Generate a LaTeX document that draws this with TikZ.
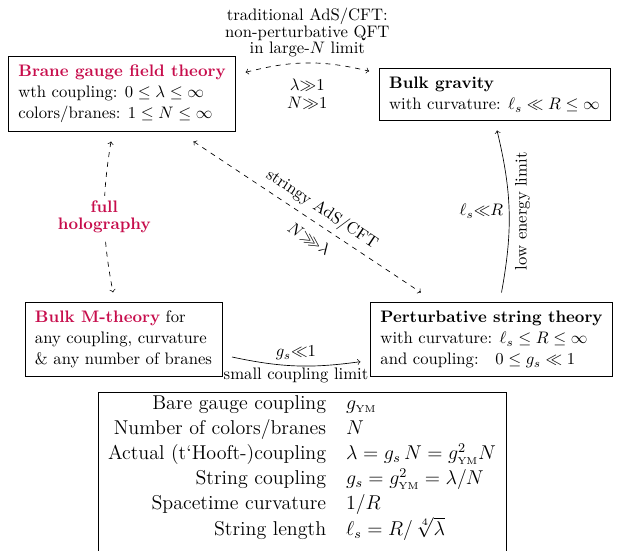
\documentclass[tikz,border=0pt]{standalone}
\usepackage{amsmath}
\usepackage{amssymb}
\usepackage{tikz}
\usetikzlibrary{arrows}
\usetikzlibrary{positioning}
\definecolor{holored}{rgb}{0.78,0.05,0.3}
\tikzset{theory/.style = {draw, align=left, inner xsep=6pt, inner ysep=5pt, outer sep=6pt,
    font=\linespread{1.06}\selectfont}}
\tikzset{lbl/.style = {align=center, font=\linespread{0.82}\selectfont}}

\begin{document}
\begin{tikzpicture}[x=0.6pt, y=0.6pt]
          \useasboundingbox (0, 0) rectangle (621, 550);

          \node [theory] (brane) at (122, 456)
            {\textcolor{holored}{\textbf{Brane gauge field theory}}\\
             wth coupling: $0 \le \lambda \le \infty$\\
             colors/branes: $1 \le N \le \infty$};
          \node [theory] (gravity) at (494.5, 455.5)
            {\textbf{Bulk gravity}\\
             with curvature: $\ell_s \ll R \le \infty$};
          \node [theory] (mtheory) at (123.5, 210.5)
            {\textcolor{holored}{\textbf{Bulk M-theory}} for\\
             any coupling, curvature\\
             \& any number of branes};
          \node [theory] (string) at (491.5, 210.5)
            {\textbf{Perturbative string theory}\\
             with curvature: $\ell_s \le R \le \infty$\\
             and coupling:\quad $0 \le g_s \ll 1$};

          \node [draw, anchor=north, inner sep=0pt, font=\large] (symbols) at (302, 158)
            {\renewcommand{\arraystretch}{1.07}%
             \begin{tabular}{rl}
               Bare gauge coupling & $g_{\scriptscriptstyle\mathrm{YM}}$\\
               Number of colors/branes & $N$\\
               Actual (t`Hooft-)coupling & $\lambda = g_s\,N = g^2_{\scriptscriptstyle\mathrm{YM}}N$\\
               String coupling & $g_s = g^2_{\scriptscriptstyle\mathrm{YM}} = \lambda/N$\\
               Spacetime curvature & $1/R$\\
               String length & $\ell_s = R/\,\sqrt[4]{\lambda}$\\[8pt]
             \end{tabular}};

          \draw [<->, dashed] ([yshift=13pt]brane.east) to [bend left=14]
            node [lbl, above] {traditional AdS/CFT:\\ non-perturbative QFT\\ in large-$N$ limit}
            node [align=center, below=6pt, font=\linespread{0.9}\selectfont] {$\lambda{\gg}1$\\ $N{\gg}1$}
            ([yshift=14pt]gravity.west);

          \draw [<->, dashed] ([xshift=-6.6pt]brane.south) to [bend right=10]
            node [lbl, fill=white, text=holored] {\bfseries full\\ \bfseries holography}
            ([xshift=-6.3pt]mtheory.north);

          \draw [<->, dashed] (brane) -- (string)
            node [pos=0.53, above, sloped] {stringy AdS/CFT}
            node [pos=0.55, below=3pt, sloped] {$N{\ggg}\lambda$};

          \draw [->] ([yshift=-10.5pt]mtheory.east) to [bend right=10]
            node [above] {$g_s{\ll}1$}
            node [below, inner sep=1pt] {small coupling limit}
            ([yshift=-13.3pt]string.west);

          \draw [->] ([xshift=6pt]string.north) to [bend right=12]
            node [left] {$\ell_s{\ll}R$}
            node [rotate=90, anchor=north] {low energy limit}
            ([xshift=1.5pt]gravity.south);
        \end{tikzpicture}
\end{document}
